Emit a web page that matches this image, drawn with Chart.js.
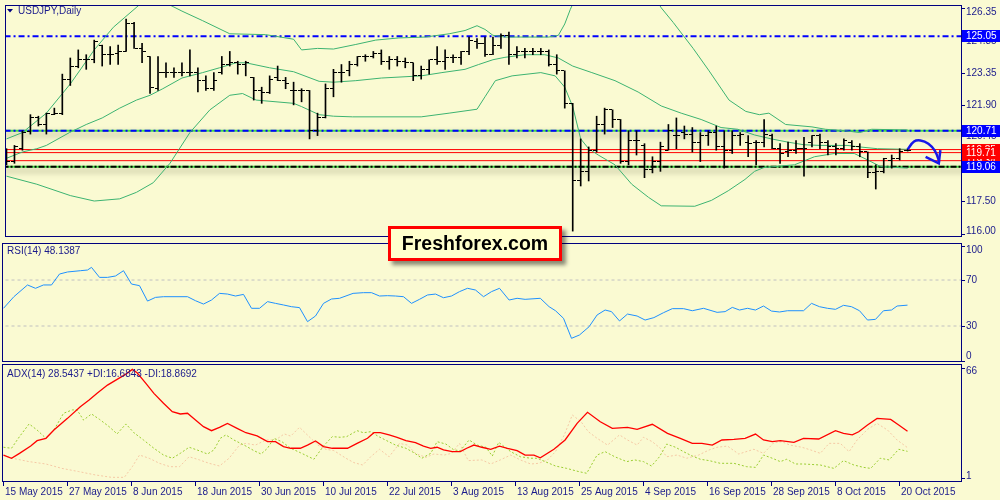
<!DOCTYPE html>
<html>
<head>
<meta charset="utf-8">
<script src="https://cdn.jsdelivr.net/npm/chart.js@4.4.0/dist/chart.umd.min.js"></script>
<style>
    body { margin: 0; width: 1000px; height: 500px; overflow: hidden; position: relative; background: #FAFAD2; font-family: 'Liberation Sans', Arial, sans-serif; }
    canvas { position: absolute; left: 0; }
    #brand {
        position: absolute; left: 388px; top: 226px; width: 168px; height: 29px;
        border: 3px solid #FF0000; background: #FFFFCC;
        box-shadow: 4px 4px 4px rgba(0, 0, 0, 0.45);
        font: bold 19.5px 'Liberation Sans', Arial, sans-serif; color: #000;
        text-align: center; line-height: 29px;
    }
</style>
</head>
<body>
<canvas id="priceChart" width="1000" height="242" style="top:0"></canvas>
<canvas id="rsiChart" width="1000" height="121" style="top:242px"></canvas>
<canvas id="adxChart" width="1000" height="137" style="top:363px"></canvas>
<div id="brand">Freshforex.com</div>
<script>
// USDJPY Daily - bars, Bollinger, RSI(14), ADX(14)

const NAVY = '#000080';
const TEXT = '#1a1a8c';
const FONT = "10px 'Liberation Sans', Arial, sans-serif";

const dateLabels = ['15 May 2015', '27 May 2015', '8 Jun 2015', '18 Jun 2015', '30 Jun 2015', '10 Jul 2015',
    '22 Jul 2015', '3 Aug 2015', '13 Aug 2015', '25 Aug 2015', '4 Sep 2015', '16 Sep 2015',
    '28 Sep 2015', '8 Oct 2015', '20 Oct 2015'];
const dateTickIdx = [0, 8, 16, 24, 32, 40, 48, 56, 64, 72, 80, 88, 96, 104, 112];

// daily bars, index 0 = 15 May 2015
const opens = [119.45, 119.30, 119.89, 120.70, 121.30, 121.00, 121.45, 121.52, 123.08, 123.68,
    123.97, 123.97, 124.64, 124.20, 124.27, 124.35, 125.61, 124.49, 124.12, 122.64,
    123.38, 123.38, 123.38, 123.38, 123.38, 123.01, 122.64, 123.38, 123.75, 123.83,
    123.75, 123.16, 122.56, 122.49, 123.16, 123.01, 122.56, 122.56, 122.56, 120.71,
    121.30, 122.64, 123.38, 123.46, 123.75, 124.12, 124.12, 124.27, 123.90, 123.97,
    123.90, 123.83, 123.23, 123.53, 123.97, 123.90, 124.05, 124.05, 124.35, 124.79,
    124.72, 124.20, 124.64, 125.09, 124.20, 124.35, 124.35, 124.35, 124.35, 123.75,
    123.46, 121.97, 118.41, 118.85, 119.82, 121.00, 121.67, 121.23, 119.30, 120.26,
    120.04, 118.93, 119.30, 119.82, 120.49, 120.63, 120.56, 120.19, 120.49, 120.63,
    119.97, 119.82, 120.49, 120.19, 120.19, 120.19, 120.49, 119.89, 119.74, 119.82,
    119.89, 120.19, 120.49, 120.19, 119.97, 119.89, 120.19, 119.97, 119.74, 118.78,
    118.85, 119.37, 119.45, 119.82];
const highs = [119.89, 120.04, 120.71, 121.45, 121.38, 121.52, 121.75, 123.31, 124.05, 124.42,
    124.20, 124.87, 124.64, 124.57, 124.64, 125.83, 125.68, 124.72, 124.12, 124.12,
    123.83, 123.60, 123.83, 124.42, 123.60, 123.23, 123.38, 124.12, 124.35, 123.90,
    123.90, 123.16, 122.71, 123.23, 123.68, 123.16, 122.94, 122.64, 122.56, 121.52,
    122.86, 123.53, 123.75, 123.90, 124.12, 124.20, 124.35, 124.42, 124.12, 124.12,
    124.05, 123.83, 123.68, 123.97, 124.57, 124.42, 124.20, 124.35, 125.01, 124.94,
    125.01, 125.01, 125.16, 125.24, 124.57, 124.49, 124.49, 124.49, 124.42, 124.20,
    123.46, 121.97, 120.34, 119.97, 121.38, 121.75, 121.67, 121.23, 120.71, 120.71,
    120.12, 119.52, 120.19, 121.00, 121.30, 120.93, 120.86, 120.63, 120.71, 120.93,
    120.71, 120.71, 120.63, 120.49, 120.26, 121.23, 120.56, 120.12, 120.19, 120.26,
    120.41, 120.49, 120.56, 120.26, 120.12, 120.34, 120.26, 120.12, 119.74, 119.15,
    119.45, 119.60, 119.89, 119.89];
const lows = [119.15, 119.22, 119.82, 120.56, 120.93, 120.56, 121.45, 121.45, 122.79, 123.60,
    123.53, 123.83, 123.68, 123.75, 123.75, 124.35, 124.49, 123.83, 122.42, 122.56,
    123.16, 123.16, 123.23, 123.23, 122.49, 122.56, 122.56, 123.31, 123.68, 123.31,
    123.23, 122.12, 121.97, 122.42, 123.01, 122.64, 121.90, 122.04, 120.34, 120.49,
    121.30, 122.27, 122.94, 123.23, 123.68, 123.90, 124.05, 123.75, 123.53, 123.68,
    123.60, 123.01, 123.08, 123.31, 123.75, 123.53, 123.83, 123.75, 124.20, 124.49,
    124.12, 124.20, 124.49, 123.75, 124.05, 124.05, 124.20, 124.20, 123.68, 123.31,
    121.75, 116.11, 118.18, 118.41, 119.74, 120.56, 120.86, 119.22, 119.15, 119.60,
    118.56, 118.78, 118.85, 119.82, 119.89, 120.34, 119.74, 119.30, 120.04, 119.82,
    119.00, 119.67, 120.04, 119.52, 119.15, 119.97, 119.89, 119.22, 119.52, 119.67,
    118.63, 119.97, 119.89, 119.60, 119.60, 119.82, 119.82, 119.52, 118.56, 118.04,
    118.78, 119.00, 119.37, 119.78];
const closes = [119.30, 119.97, 120.63, 121.30, 121.00, 121.52, 121.52, 123.08, 123.68, 123.97,
    123.97, 124.79, 124.20, 124.20, 124.35, 125.61, 124.49, 124.35, 122.71, 123.38,
    123.38, 123.38, 123.38, 123.38, 123.01, 122.64, 123.01, 123.75, 123.83, 123.75,
    123.83, 122.56, 122.49, 123.08, 123.01, 122.86, 122.56, 122.56, 120.71, 121.30,
    122.64, 123.38, 123.38, 123.75, 124.12, 124.12, 124.27, 123.90, 123.97, 123.90,
    123.83, 123.23, 123.53, 123.97, 123.90, 124.05, 124.05, 124.35, 124.87, 124.72,
    124.20, 124.64, 125.09, 124.20, 124.35, 124.35, 124.35, 124.35, 123.75, 123.46,
    121.97, 118.41, 118.85, 119.82, 121.00, 121.67, 121.23, 119.30, 120.26, 120.26,
    118.93, 119.30, 119.97, 120.71, 120.49, 120.56, 120.19, 120.49, 120.63, 119.97,
    119.82, 120.49, 120.56, 120.12, 120.19, 120.56, 119.89, 119.67, 119.82, 119.89,
    119.89, 120.49, 120.19, 119.97, 119.89, 120.26, 119.97, 119.74, 118.78, 118.85,
    119.45, 119.45, 119.74, 119.82];

// Bollinger bands as [bar index, price]
const bbUpper = [[0, 120.34], [2, 120.63], [5, 121.52], [8, 122.86], [11, 124.42], [13.4, 125.46], [16.7, 126.50],
    [18, 126.9], [19, 126.85], [20, 126.57], [22, 126.20], [24.6, 125.76], [28, 125.16], [32.5, 125.12],
    [36, 124.91], [37, 124.42], [39, 124.49], [41, 124.46], [43.8, 124.67], [46.3, 124.87], [49.2, 124.97],
    [52.5, 125.01], [55.5, 125.16], [57.5, 125.31], [59, 125.53], [60, 125.36], [61, 125.09], [62.5, 125.01],
    [68, 125.01], [69.2, 125.09], [70, 125.61], [70.7, 126.28], [71.1, 126.6], [72, 127.6], [74, 128.0],
    [77, 128.2], [80, 127.6], [82.1, 126.35], [83.6, 125.68], [86.1, 124.49], [88.1, 123.46], [90.6, 122.12],
    [92.7, 121.60], [94.4, 121.45], [95.6, 121.52], [97.7, 121.00], [101, 120.89], [102.7, 120.78],
    [105.2, 120.71], [107, 120.63], [108.5, 120.78], [113, 120.75]];
const bbMiddle = [[0, 119.45], [2, 119.74], [3.8, 119.89], [5, 120.04], [7.9, 120.63], [10, 121.00], [12, 121.30],
    [14.2, 121.75], [16.3, 122.12], [18, 122.34], [19.6, 122.64], [22, 123.13], [24.6, 123.38], [26.7, 123.60],
    [28.8, 123.83], [30, 123.83], [33, 123.60], [36, 123.42], [39.2, 122.98], [41, 122.94], [43.8, 123.01],
    [47, 123.13], [52, 123.23], [54.6, 123.38], [57.5, 123.53], [59.2, 123.75], [61, 123.97], [62.5, 124.08],
    [65, 124.20], [67.5, 124.20], [69.2, 124.05], [71, 123.68], [73.4, 123.38], [76.3, 123.01], [79.2, 122.49],
    [82.1, 121.85], [84.6, 121.52], [87.1, 121.23], [89.6, 120.86], [91.7, 120.78], [93.8, 120.52],
    [95.9, 120.34], [98, 120.19], [100, 120.07], [102, 120.04], [105.4, 120.04], [107, 119.97],
    [109.2, 119.89], [113, 119.86]];
const bbLower = [[0, 118.63], [3.8, 118.26], [8, 117.74], [11, 117.49], [14.2, 117.59], [16.3, 117.89],
    [18.4, 118.33], [20.5, 119.22], [23, 120.63], [25.5, 121.67], [28, 122.34], [29.6, 122.42], [31.3, 122.12],
    [36, 121.97], [37, 121.82], [39.2, 121.45], [41, 121.38], [43.4, 121.35], [52, 121.35], [55.5, 121.52],
    [59, 121.70], [60, 122.27], [61.3, 123.01], [63.4, 123.23], [67, 123.38], [68.8, 123.23], [70, 122.71],
    [71, 121.82], [72, 120.34], [73, 119.89], [74.2, 119.60], [76.3, 119.15], [78.4, 118.26], [80.5, 117.66],
    [82.1, 117.27], [86.3, 117.25], [88.4, 117.52], [90.5, 117.96], [92.6, 118.48], [93.8, 118.85],
    [95, 119.03], [98.8, 119.15], [101.3, 119.52], [103.8, 119.67], [106.3, 119.67], [108, 119.37],
    [109.6, 119.07], [113, 119.00]];

const levelBlue = [125.05, 120.71];
const levelRed = [119.85, 119.71, 119.34];
const levelBlack = 119.06;
const priceTicks = [126.35, 124.85, 123.35, 121.90, 120.45, 118.95, 117.50, 116.00];

// hand drawn arrow (bar index, price)
const arrowPath = [[113.0, 119.86], [113.8, 120.22], [114.6, 120.27], [115.6, 120.12], [116.4, 119.80], [116.9, 119.35], [116.9, 119.22]];
const arrowHead = [[115.25, 119.52], [116.9, 119.22], [117.1, 119.82]];

const rsiValues = [[0, 45.4], [1.3, 55.5], [3, 65.7], [4, 62.8], [5, 65.7], [6, 65.7], [7, 75.2], [8, 77], [9.6, 78.1],
    [10.5, 78.7], [11, 81], [12, 72.3], [13, 72.3], [14, 73.5], [15, 78.1], [16, 66.5], [17, 65.1], [18, 51.7],
    [19, 54.9], [20, 55.5], [23, 55.5], [24, 52], [25, 49.1], [26, 52.6], [27, 58.4], [28, 57.8], [29, 56.1],
    [30, 57.5], [31, 45.4], [32, 45.4], [33, 51.2], [34, 49.7], [35, 48.3], [36, 46.8], [37, 46], [38, 33.8],
    [39, 38.7], [40, 49.7], [41, 53.5], [42, 54.1], [43.7, 58.4], [45, 59], [46, 59], [47, 56.1], [48, 56.4],
    [49, 56.1], [50, 55.5], [51, 49.7], [52, 53.2], [53, 57], [54, 57.8], [55, 54.6], [56, 56.1], [57, 59.9],
    [58, 62.8], [59, 61.3], [60, 55.5], [61, 59.9], [62, 62.8], [63.2, 52.6], [64.2, 54.1], [65.2, 53.2],
    [67.1, 54.1], [68.2, 46.8], [69, 43.3], [70, 36.7], [71, 19.3], [72, 22.2], [73.2, 29.4], [74.2, 39.6],
    [75.2, 43.9], [76, 42.5], [77, 34.4], [78, 40.4], [79.2, 38.7], [80.2, 35.2], [81.3, 37.3], [82.5, 41.6],
    [83.6, 45.1], [85, 45.1], [86.1, 43.3], [87.5, 45.4], [89.2, 41.9], [90.2, 42.5], [91.1, 46.2], [92, 43.9],
    [93, 45.4], [94, 43.9], [95, 47.4], [96, 43], [97, 42.2], [98, 43.3], [100, 43.3], [101, 49.7], [102, 46.8],
    [103, 45.4], [104, 44.5], [105, 48], [106, 46.8], [107, 43.3], [108, 35.2], [109, 35.8], [110, 43.3],
    [111, 43.9], [111.7, 47.4], [113, 48.14]];
const rsiLevels = [70, 30];
const rsiTicks = [100, 70, 30, 0];

const adxValues = [[0, 14.5], [1, 12.6], [2, 15.5], [3.4, 19.8], [4.2, 23], [5.3, 24.4], [6.3, 29.3], [8, 36.2],
    [9.6, 43.1], [10.7, 47], [11.7, 51], [13, 55.9], [14.2, 59.3], [15.3, 62.4], [16.1, 65.2], [16.7, 63.2],
    [17.8, 56.9], [18.8, 51], [20, 45.1], [21.1, 40.2], [22.1, 38.8], [23, 39.2], [24, 35.2], [25, 31.3],
    [26, 28.9], [27, 30.9], [28, 33.2], [29.2, 30.3], [30.3, 27.7], [31.7, 25.8], [33, 22.4], [34, 22.4],
    [35, 19.5], [35.9, 18.5], [37.1, 18.5], [38, 20.4], [39, 22.8], [40, 19.5], [41.1, 18.5], [43, 18.5],
    [44.2, 21.4], [45.5, 24.4], [46.3, 27.7], [47.1, 27.7], [48.2, 26.4], [49.2, 25], [50.3, 23], [51.5, 21.8],
    [52.5, 19.8], [53.4, 18.5], [54.2, 19.1], [55, 17.5], [56.1, 16.5], [57.1, 16.5], [57.9, 18.5],
    [58.8, 20.4], [59.8, 19.1], [60.9, 17.9], [62, 19.8], [63, 18.5], [64.2, 17.1], [65.2, 14.5], [66.3, 14.5],
    [67.1, 12.9], [68.8, 17.9], [70.2, 23.4], [71.7, 33.2], [73, 39.8], [74.6, 34.2], [76.1, 30.3], [78, 30.9],
    [79.2, 29.7], [81.1, 32.7], [83, 27.3], [84.6, 24.4], [86.1, 21.4], [87.3, 21.4], [88.6, 20.4],
    [89.8, 23.4], [91.3, 23.8], [92.7, 24.4], [94, 26.9], [95, 23.4], [96.1, 22.4], [97.1, 23], [98.8, 22],
    [100, 24.4], [101.9, 24], [104, 28.9], [105, 27.3], [106.1, 26.4], [106.9, 28.3], [108, 32.3],
    [109.2, 36.2], [110.9, 35.6], [111.9, 32.3], [113, 28.54]];
const plusDI = [[0, 19.1], [1, 18.5], [2, 25.4], [3.2, 32.9], [4.2, 29.3], [5.3, 24.4], [6.3, 29.3], [7.5, 39.2],
    [8.6, 41.2], [9.2, 41.2], [10, 35.2], [11, 38.8], [12, 35.6], [13.2, 31.3], [14.2, 27], [15.3, 32.9],
    [16.3, 27.7], [17.5, 23.4], [18.8, 18.5], [20, 14.5], [21.1, 12.6], [22.1, 15.5], [23.2, 19.1], [24.2, 17.5],
    [25.5, 15.1], [26.3, 17.5], [27.1, 24.4], [27.8, 26.4], [28.8, 23.4], [30.3, 19.8], [31.3, 17.1],
    [32.2, 15.1], [33, 18.5], [33.8, 24.4], [34.8, 22.4], [35.9, 18.5], [37.1, 15.9], [38.8, 12], [40, 19.8],
    [41.1, 25.4], [42.1, 25], [42.9, 25.4], [44.2, 28.9], [45, 27.7], [45.9, 28.3], [46.9, 25.4], [47.9, 23],
    [49, 20.4], [50.3, 18.5], [51.3, 15.9], [52.3, 12.6], [53.4, 15.5], [54.2, 22.4], [55.3, 21], [56.3, 17.5],
    [57.1, 17.1], [58.2, 23.4], [59.2, 20.4], [60.3, 19.1], [61.1, 13.9], [61.9, 22], [63.4, 16.5],
    [64.6, 13.5], [65.9, 12.6], [66.7, 12.6], [67.7, 10.6], [69, 8], [70.4, 6.6], [71.9, 4.7], [72.9, 3.7],
    [74.2, 14.5], [75.2, 16.5], [76.4, 13.5], [77.9, 10.6], [78.9, 11.6], [80, 10.6], [81, 8], [82, 13.5],
    [82.9, 21], [84, 19.1], [85, 16.5], [86.1, 13.9], [87.1, 12], [88.2, 11.2], [89.6, 9.6], [91.3, 9.6],
    [92.9, 7.6], [94, 7.2], [95, 14.5], [96.1, 12.6], [97.1, 10.6], [97.9, 12], [99, 9.2], [100, 9.2],
    [102.1, 8.6], [103.8, 6.6], [105, 11.2], [106.3, 8.6], [107.5, 7.2], [108.4, 6.6], [109.6, 12.6],
    [110.7, 11.6], [111.9, 17.9], [113, 16.68]];
const minusDI = [[0, 14.5], [1.1, 12.6], [3.2, 10.6], [5.3, 9.2], [7.3, 6.6], [9.4, 4.7], [11.5, 2.7], [13.5, 1.3],
    [15.1, 1.3], [16.1, 7.6], [17, 14.5], [18.2, 12.6], [19.5, 9.6], [20.8, 7.6], [22, 7.6], [23.2, 13.5],
    [24.5, 11.6], [25.7, 9.6], [27, 8], [28.2, 12.6], [29.5, 20.4], [30.3, 21.4], [31.5, 20.4], [32.8, 23.4],
    [34, 23.4], [35.1, 27], [35.9, 25.7], [37, 30.9], [38.2, 25.4], [39.3, 20.4], [40.3, 17.9], [41.3, 17.1],
    [42.8, 12.6], [43.8, 10], [44.9, 8.6], [45.9, 13.5], [47, 17.9], [48.2, 13.5], [49.5, 21.4], [50.5, 20.4],
    [51.5, 15.5], [52.8, 13.1], [53.8, 15.1], [55.1, 14.5], [56, 15.5], [57, 21.4], [58.1, 11.2], [59.8, 11.6],
    [60.9, 9.2], [62.1, 11.6], [63.4, 14.5], [64.6, 11.6], [65.9, 9.2], [66.9, 9.6], [68, 11.6], [69, 16.5],
    [70.1, 26.4], [71.1, 38.2], [72.2, 34.2], [73.1, 28.3], [74.2, 24.4], [75.5, 20.4], [77, 26.4], [78, 23.4],
    [79.2, 20.4], [80, 25], [81.1, 22.4], [82.1, 18.5], [82.9, 13.5], [84.2, 14.5], [85.4, 12.6], [86.9, 14.5],
    [88.2, 17.5], [89.2, 19.1], [90.5, 19.8], [91.9, 15.1], [93.8, 17.9], [95, 15.5], [96.3, 21.8],
    [97.3, 22.4], [98.3, 20.4], [99.8, 19.1], [100.9, 17.5], [102.1, 15.5], [103.2, 21.4], [104.6, 21.4],
    [105.7, 16.5], [106.7, 23.4], [108, 29.7], [109.2, 33.2], [110.5, 29.3], [111.7, 23.4], [113, 18.87]];
const adxTicks = [66, 1];

// helpers
const pts = arr => arr.map(([x, y]) => ({ x: x, y: y }));

function tickImage(side) {
    const c = document.createElement('canvas');
    c.width = 9; c.height = 1;
    const g = c.getContext('2d');
    g.fillStyle = '#000';
    if (side === 'open') g.fillRect(1, 0, 3, 1); else g.fillRect(5, 0, 3, 1);
    return c;
}

function hline(value, color, width, dash, order, shadow) {
    return {
        type: 'line',
        data: [{ x: -2, y: value }, { x: 122, y: value }],
        borderColor: color, borderWidth: width, borderDash: dash || [],
        pointRadius: 0, order: order, shadow: !!shadow
    };
}

function curve(arr, color, width, dash, order) {
    return {
        type: 'line', data: pts(arr), borderColor: color, borderWidth: width,
        borderDash: dash || [], pointRadius: 0, tension: 0, order: order
    };
}

const xAxis = { type: 'linear', min: -0.1875, max: 119.6875, display: false, offset: false };

// frame, right scale, label boxes and captions
const panelDecor = {
    id: 'panelDecor',
    beforeDatasetsDraw(chart) {
        chart.ctx.imageSmoothingEnabled = false;
    },
    beforeDatasetDraw(chart, args) {
        const ds = chart.data.datasets[args.index];
        if (ds.shadow) {
            const c = chart.ctx;
            c.save();
            c.shadowColor = 'rgba(70, 70, 40, 0.5)';
            c.shadowBlur = 6;
            c.shadowOffsetY = 4;
        }
    },
    afterDatasetDraw(chart, args) {
        if (chart.data.datasets[args.index].shadow) chart.ctx.restore();
    },
    afterDraw(chart, args, o) {
        const { ctx, chartArea: a, scales } = chart;
        const y = scales.y, x = scales.x;
        ctx.save();
        ctx.imageSmoothingEnabled = true;
        ctx.strokeStyle = NAVY;
        ctx.lineWidth = 1;
        ctx.strokeRect(a.left + 0.5, a.top + 0.5, a.right - a.left, a.bottom - a.top - 1);

        ctx.font = FONT;
        ctx.textBaseline = 'middle';
        ctx.textAlign = 'left';
        ctx.fillStyle = TEXT;
        (o.ticks || []).forEach(v => {
            const py = Math.round(y.getPixelForValue(v)) + 0.5;
            ctx.beginPath();
            ctx.moveTo(a.right, py);
            ctx.lineTo(a.right + 4, py);
            ctx.stroke();
            const ly = Math.min(Math.max(py, a.top + 7), a.bottom - 6);
            ctx.fillText(o.decimals ? v.toFixed(o.decimals) : String(v), a.right + 5, ly);
        });

        (o.boxes || []).forEach(b => {
            const py = y.getPixelForValue(b.value);
            ctx.fillStyle = b.bg;
            ctx.fillRect(a.right + 1, Math.round(py - 6), 1000 - a.right - 1, 12);
            ctx.fillStyle = '#FFFFFF';
            ctx.fillText(b.value.toFixed(2), a.right + 5, py + 0.5);
        });

        ctx.fillStyle = TEXT;
        (o.captions || []).forEach(t => ctx.fillText(t.text, t.x, t.y));

        if (o.titleMark) {
            ctx.fillStyle = NAVY;
            ctx.beginPath();
            ctx.moveTo(7, 9); ctx.lineTo(13, 9); ctx.lineTo(10, 12.5); ctx.closePath();
            ctx.fill();
        }

        if (o.xLabels) {
            ctx.fillStyle = TEXT;
            dateTickIdx.forEach((idx, k) => {
                const px = Math.floor(x.getPixelForValue(idx)) + 0.5;
                ctx.beginPath();
                ctx.moveTo(px, a.bottom);
                ctx.lineTo(px, a.bottom + 4);
                ctx.stroke();
                ctx.fillText(dateLabels[k], px + 1.5, a.bottom + 10.5);
            });
        }
        ctx.restore();
    }
};

const baseOptions = {
    responsive: false, animation: false, devicePixelRatio: 1, events: [],
    plugins: { legend: { display: false }, tooltip: { enabled: false } }
};

// price panel
const priceSets = [
    {
        type: 'bar',
        data: highs.map((h, i) => ({ x: i, y: [lows[i], h] })),
        backgroundColor: '#000000', borderWidth: 0, barThickness: 1, order: 1
    },
    {
        type: 'line', showLine: false,
        data: opens.map((v, i) => ({ x: i, y: v })),
        pointStyle: tickImage('open'), pointRadius: 3, order: 1
    },
    {
        type: 'line', showLine: false,
        data: closes.map((v, i) => ({ x: i, y: v })),
        pointStyle: tickImage('close'), pointRadius: 3, order: 1
    },
    curve(bbUpper, '#3CB371', 1, null, 4),
    curve(bbMiddle, '#3CB371', 1, null, 4),
    curve(bbLower, '#3CB371', 1, null, 4),
    hline(levelBlue[1], '#44DD44', 2, null, 12, true),
    hline(levelBlue[1], '#0000FF', 2, [6, 3, 2, 3], 11),
    hline(levelBlack, '#44DD44', 2, null, 12, true),
    hline(levelBlack, '#000000', 2, [6, 2, 2, 2], 11),
    hline(levelBlue[0], '#0000FF', 2, [6, 3, 2, 3], 11),
    ...levelRed.map(v => hline(v, '#FF0000', 1, null, 10)),
    {
        type: 'line', data: pts(arrowPath), borderColor: '#1818E8', borderWidth: 2.5,
        pointRadius: 0, tension: 0.4, order: 0
    },
    {
        type: 'line', data: pts(arrowHead), borderColor: '#1818E8', borderWidth: 2.5,
        pointRadius: 0, tension: 0, order: 0
    }
];

new Chart(document.getElementById('priceChart'), {
    type: 'bar',
    data: { datasets: priceSets },
    options: {
        ...baseOptions,
        layout: { padding: { left: 2, right: 39, top: 2, bottom: 1 } },
        scales: {
            x: xAxis,
            y: { type: 'linear', min: 115.84, max: 126.48, display: false }
        },
        plugins: {
            ...baseOptions.plugins,
            panelDecor: {
                ticks: priceTicks, decimals: 2, titleMark: true,
                boxes: [
                    { value: levelRed[0], bg: '#FF0000' },
                    { value: levelRed[2], bg: '#FF0000' },
                    { value: levelRed[1], bg: '#FF0000' },
                    { value: levelBlue[0], bg: '#0000FF' },
                    { value: levelBlue[1], bg: '#0000FF' },
                    { value: levelBlack, bg: '#0000FF' }
                ],
                captions: [{ text: 'USDJPY,Daily', x: 18, y: 11 }]
            }
        }
    },
    plugins: [panelDecor]
});

// RSI panel
new Chart(document.getElementById('rsiChart'), {
    type: 'line',
    data: {
        datasets: [
            curve(rsiValues, '#1E90FF', 1, null, 0),
            ...rsiLevels.map(v => hline(v, '#C0C0C0', 1, [3, 3], 5))
        ]
    },
    options: {
        ...baseOptions,
        layout: { padding: { left: 2, right: 39, top: 1, bottom: 1 } },
        scales: {
            x: xAxis,
            y: { type: 'linear', min: -1.3, max: 102.2, display: false }
        },
        plugins: {
            ...baseOptions.plugins,
            panelDecor: {
                ticks: rsiTicks,
                captions: [{ text: 'RSI(14) 48.1387', x: 7, y: 9 }]
            }
        }
    },
    plugins: [panelDecor]
});

// ADX panel
new Chart(document.getElementById('adxChart'), {
    type: 'line',
    data: {
        datasets: [
            curve(adxValues, '#FF0000', 1.3, null, 0),
            curve(plusDI, '#9ACD32', 1, [2, 2], 1),
            curve(minusDI, '#F5C9A5', 1, [2, 2], 2)
        ]
    },
    options: {
        ...baseOptions,
        layout: { padding: { left: 2, right: 39, top: 1, bottom: 18 } },
        scales: {
            x: xAxis,
            y: { type: 'linear', min: -1.46, max: 68.37, display: false }
        },
        plugins: {
            ...baseOptions.plugins,
            panelDecor: {
                ticks: adxTicks, xLabels: true,
                captions: [{ text: 'ADX(14) 28.5437 +DI:16.6843 -DI:18.8692', x: 7, y: 11 }]
            }
        }
    },
    plugins: [panelDecor]
});
</script>
</body>
</html>
